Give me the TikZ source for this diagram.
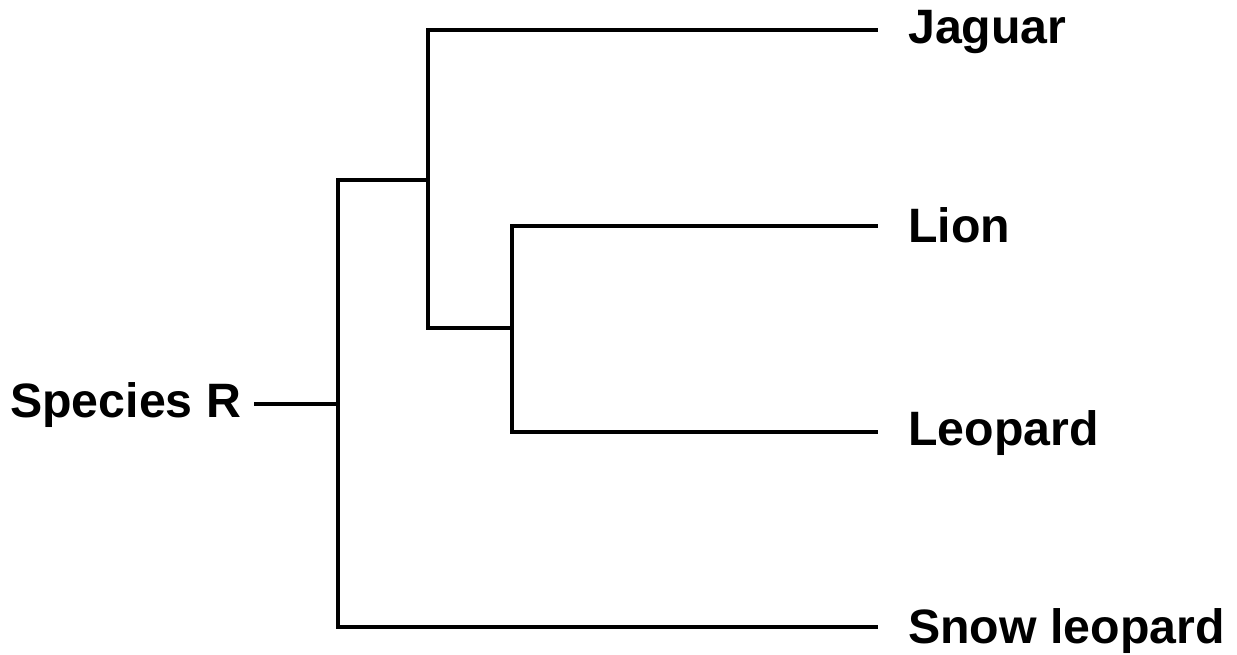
\documentclass[tikz,border=0pt]{standalone}
\usepackage{fontspec}
\setmainfont{Liberation Sans}
\begin{document}
\begin{tikzpicture}[x=0.75pt,y=-0.75pt,
  branch/.style={line width=2.6pt,line cap=rect,line join=miter},
  taxon/.style={anchor=base west,inner sep=0pt,font=\fontsize{36.2}{43}\selectfont\bfseries}]
\useasboundingbox (0,0) rectangle (1237,655);
% labels
\node[taxon] (root) at (10,417) {Species R};
\node[taxon] (jag)  at (908,44)  {Jaguar};
\node[taxon] (lion) at (908,243) {Lion};
\node[taxon] (leo)  at (908,445) {Leopard};
\node[taxon] (snow) at (908,643) {Snow leopard};
% internal nodes
\coordinate (stub) at (256,404);
\coordinate (n0) at (338,404);
\coordinate (n1) at (428,180);
\coordinate (n2) at (512,328);
\coordinate (tJ) at (876,30);
\coordinate (tLi) at (876,226);
\coordinate (tLe) at (876,432);
\coordinate (tS) at (876,627);
% tree
\draw[branch] (stub) -- (n0);
\draw[branch] (n0 |- tS) -- (n0 |- n1) -- (n1);
\draw[branch] (n0 |- tS) -- (tS);
\draw[branch] (n1 |- tJ) -- (n1 |- n2) -- (n2);
\draw[branch] (n1 |- tJ) -- (tJ);
\draw[branch] (n2 |- tLi) -- (n2 |- tLe);
\draw[branch] (n2 |- tLi) -- (tLi);
\draw[branch] (n2 |- tLe) -- (tLe);
\end{tikzpicture}
\end{document}
